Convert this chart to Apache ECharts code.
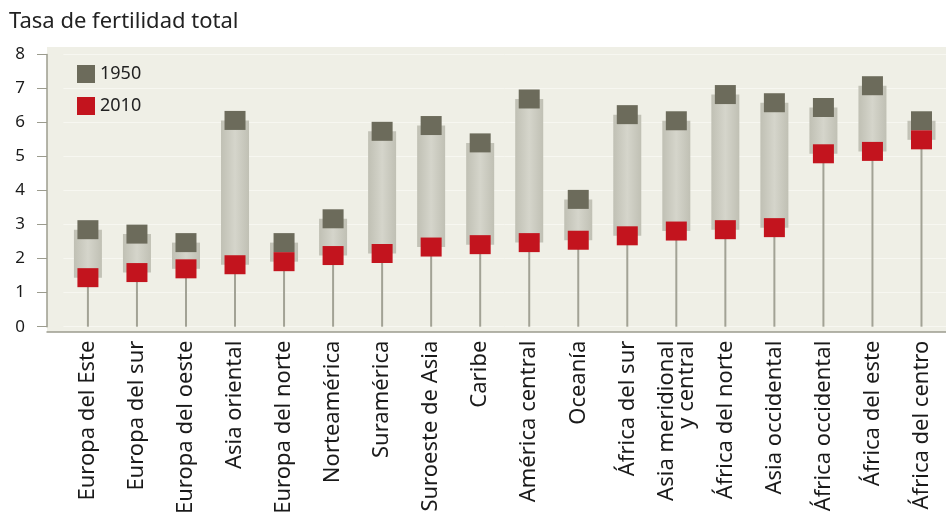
<!DOCTYPE html>
<html>
<head>
<meta charset="utf-8">
<script src="https://cdn.jsdelivr.net/npm/echarts@6/dist/echarts.min.js"></script>
<style>
  html, body { margin: 0; padding: 0; background: #fff; }
  #chart { width: 946px; height: 517px; }
</style>
</head>
<body>
<div id="chart"></div>
<script>
// regiones, en el orden del gráfico
const categories = [
  'Europa del Este', 'Europa del sur', 'Europa del oeste', 'Asia oriental',
  'Europa del norte', 'Norteamérica', 'Suramérica', 'Suroeste de Asia',
  'Caribe', 'América central', 'Oceanía', 'África del sur',
  'Asia meridional\ny central', 'África del norte', 'Asia occidental',
  'África occidental', 'África del este', 'África del centro'
]
const tfr1950 = [2.85, 2.72, 2.47, 6.06, 2.47, 3.17, 5.74, 5.91, 5.40, 6.69, 3.74, 6.23, 6.05, 6.82, 6.58, 6.44, 7.08, 6.05]
const tfr2010 = [1.44, 1.59, 1.70, 1.82, 1.91, 2.09, 2.15, 2.34, 2.41, 2.47, 2.54, 2.67, 2.81, 2.85, 2.91, 5.08, 5.15, 5.49]
const yTicks = [0, 1, 2, 3, 4, 5, 6, 7, 8]

const chart = echarts.init(document.getElementById('chart'))

const barFill = new echarts.graphic.LinearGradient(0, 0, 1, 0, [
  { offset: 0, color: '#c0c0b4' },
  { offset: 0.5, color: '#d5d5cb' },
  { offset: 1, color: '#c0c0b4' }
])

// stem from 0 to the 2010 value + grey range bar between both years
function renderRange(params, api) {
  const i = api.value(0)
  const top = api.coord([i, api.value(1)])
  const bot = api.coord([i, api.value(2)])
  const base = api.coord([i, 0])
  const w = 28
  return {
    type: 'group',
    children: [
      {
        type: 'rect',
        shape: { x: base[0] - 1, y: bot[1], width: 2, height: base[1] - bot[1] },
        style: { fill: '#a2a295' }
      },
      {
        type: 'rect',
        shape: { x: top[0] - w / 2, y: top[1], width: w, height: bot[1] - top[1] },
        style: { fill: barFill }
      }
    ]
  }
}

chart.setOption({
  animation: false,
  textStyle: { fontFamily: 'Noto Sans' },
  title: {
    text: 'Tasa de fertilidad total',
    left: 9,
    top: 11,
    padding: 0,
    textStyle: { fontSize: 22, fontWeight: 'normal', color: '#222' }
  },
  legend: {
    data: ['1950', '2010'],
    orient: 'vertical',
    left: 77,
    top: 65,
    padding: 0,
    itemGap: 14,
    itemWidth: 18,
    itemHeight: 18,
    icon: 'rect',
    textStyle: { fontSize: 18, color: '#222' }
  },
  grid: [
    { left: 47, right: 0, top: 47, bottom: 185, show: true, backgroundColor: '#efefe6', borderWidth: 0 },
    { left: 63.4, right: -4.8, top: 54.4, bottom: 185 }
  ],
  xAxis: [
    {
      gridIndex: 0,
      type: 'value',
      min: 0,
      max: 1,
      axisLine: { show: true, lineStyle: { color: '#9c9c8e', width: 1.5 } },
      axisTick: { show: false },
      axisLabel: { show: false },
      splitLine: { show: false }
    },
    {
      gridIndex: 1,
      type: 'category',
      data: categories,
      axisLine: { show: false },
      axisTick: { show: false },
      axisLabel: {
        interval: 0,
        rotate: 90,
        margin: 14,
        fontSize: 22,
        lineHeight: 20,
        color: '#1a1a1a'
      }
    }
  ],
  yAxis: [
    { gridIndex: 0, type: 'value', show: false },
    {
      gridIndex: 1,
      type: 'value',
      min: 0,
      max: 8,
      interval: 1,
      offset: 16.4,
      axisLine: { show: true, lineStyle: { color: '#9c9c8e', width: 1.5 } },
      axisTick: { show: true, length: 10, lineStyle: { color: '#9c9c8e' } },
      axisLabel: {
        margin: 22,
        fontSize: 17,
        color: '#1a1a1a',
        formatter: v => (yTicks.includes(v) ? String(v) : '')
      },
      splitLine: { show: true, lineStyle: { color: '#f7f7f1', width: 1 } }
    }
  ],
  series: [
    {
      type: 'custom',
      xAxisIndex: 1,
      yAxisIndex: 1,
      renderItem: renderRange,
      encode: { x: 0, y: [1, 2] },
      data: categories.map((c, i) => [i, tfr1950[i], tfr2010[i]]),
      silent: true
    },
    {
      name: '1950',
      type: 'scatter',
      xAxisIndex: 1,
      yAxisIndex: 1,
      symbol: 'rect',
      symbolSize: [21, 19],
      itemStyle: { color: '#6c6b5b', opacity: 1 },
      data: tfr1950
    },
    {
      name: '2010',
      type: 'scatter',
      xAxisIndex: 1,
      yAxisIndex: 1,
      symbol: 'rect',
      symbolSize: [21, 19],
      itemStyle: { color: '#c3141e', opacity: 1 },
      data: tfr2010
    }
  ]
})
</script>
</body>
</html>
